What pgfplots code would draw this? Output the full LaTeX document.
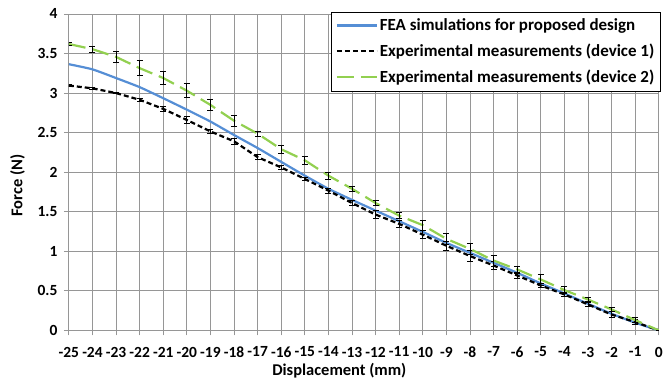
\documentclass[border=0pt]{standalone}
\usepackage{pgfplots}
\usepackage{pgfplotstable}
\pgfplotsset{compat=1.18}
\usepackage{fontspec}
\setmainfont{Carlito}
\definecolor{feablue}{RGB}{85,142,213}
\definecolor{devgreen}{RGB}{146,208,80}
\definecolor{gridgray}{RGB}{150,150,150}
\pgfplotstableread{
x    fea    d1     d1e    d2     d2e
-25  3.365  3.095  0.010  3.620  0.015
-24  3.300  3.060  0.010  3.555  0.040
-23  3.190  3.000  0.010  3.457  0.065
-22  3.075  2.915  0.020  3.315  0.095
-21  2.935  2.800  0.030  3.190  0.085
-20  2.790  2.660  0.040  3.030  0.090
-19  2.640  2.515  0.030  2.850  0.075
-18  2.470  2.390  0.040  2.650  0.070
-17  2.305  2.190  0.030  2.487  0.030
-16  2.130  2.060  0.030  2.290  0.050
-15  1.956  1.914  0.020  2.150  0.050
-14  1.790  1.767  0.030  1.956  0.045
-13  1.650  1.610  0.030  1.790  0.035
-12  1.514  1.464  0.050  1.610  0.035
-11  1.380  1.346  0.040  1.450  0.040
-10  1.245  1.210  0.050  1.330  0.060
-9   1.106  1.070  0.060  1.157  0.070
-8   0.980  0.940  0.070  1.030  0.070
-7   0.854  0.820  0.050  0.883  0.070
-6   0.728  0.694  0.040  0.770  0.045
-5   0.593  0.568  0.030  0.643  0.070
-4   0.467  0.454  0.030  0.510  0.040
-3   0.336  0.328  0.030  0.390  0.030
-2   0.210  0.200  0.040  0.265  0.030
-1   0.097  0.105  0.030  0.130  0.030
0    0.000  0.000  0.000  0.000  0.000
}\datatable
\begin{document}
\begin{tikzpicture}
\begin{axis}[
  scale only axis,
  width=591pt, height=317pt,
  xmin=-25, xmax=0, ymin=0, ymax=4,
  xtick={-25,-24,...,0},
  ytick={0,0.5,...,4},
  grid=major,
  major grid style={gridgray, line width=0.8pt},
  axis line style={gridgray, line width=0.8pt},
  tick style={gridgray, line width=0.8pt},
  tick align=outside,
  major tick length=5pt,
  xtick pos=bottom, ytick pos=left,
  /pgf/number format/assume math mode=true,
  tick label style={font=\bfseries\fontsize{15.5}{17}\selectfont, black},
  yticklabel style={xshift=-3pt},
  xticklabel style={yshift=-8pt},
  xlabel={Displacement (mm)},
  ylabel={Force (N)},
  label style={font=\bfseries\fontsize{16.5}{18}\selectfont},
  xlabel style={at={(axis description cs:0.4585,-0.128)}, anchor=center},
  ylabel style={at={(axis description cs:-0.0871,0.4574)}, anchor=center},
  legend style={at={(rel axis cs:1,1)}, anchor=north east, xshift=2pt, yshift=2pt,
    draw=black, line width=0.8pt, fill=white,
    font=\bfseries\fontsize{17}{19}\selectfont,
    inner xsep=4pt, inner ysep=4.5pt, row sep=8pt,
    /tikz/every even column/.append style={column sep=0pt}},
  legend cell align=left,
  legend image code/.code={\draw[#1] (0pt,0pt) -- (40pt,0pt);},
]
\addplot[feablue, line width=2.2pt, smooth, tension=0.3] table[x=x, y=fea] {\datatable};
\addlegendentry{FEA simulations for proposed design}
\addplot[black, line width=2.2pt, dash pattern=on 5pt off 3pt,
  error bars/.cd, y dir=both, y explicit,
  error bar style={black, line width=0.8pt, solid},
  error mark options={rotate=90, mark size=3pt, black, line width=0.8pt, solid}]
  table[x=x, y=d1, y error=d1e] {\datatable};
\addlegendentry{Experimental measurements (device 1)}
\addplot[devgreen, line width=2.2pt, dash pattern=on 17pt off 7pt,
  error bars/.cd, y dir=both, y explicit,
  error bar style={black, line width=0.8pt, solid},
  error mark options={rotate=90, mark size=3pt, black, line width=0.8pt, solid}]
  table[x=x, y=d2, y error=d2e] {\datatable};
\addlegendentry{Experimental measurements (device 2)}
\end{axis}
\path ([shift={(-69pt,-54pt)}]current axis.south west) rectangle ([shift={(6pt,14pt)}]current axis.north east);
\end{tikzpicture}
\end{document}
